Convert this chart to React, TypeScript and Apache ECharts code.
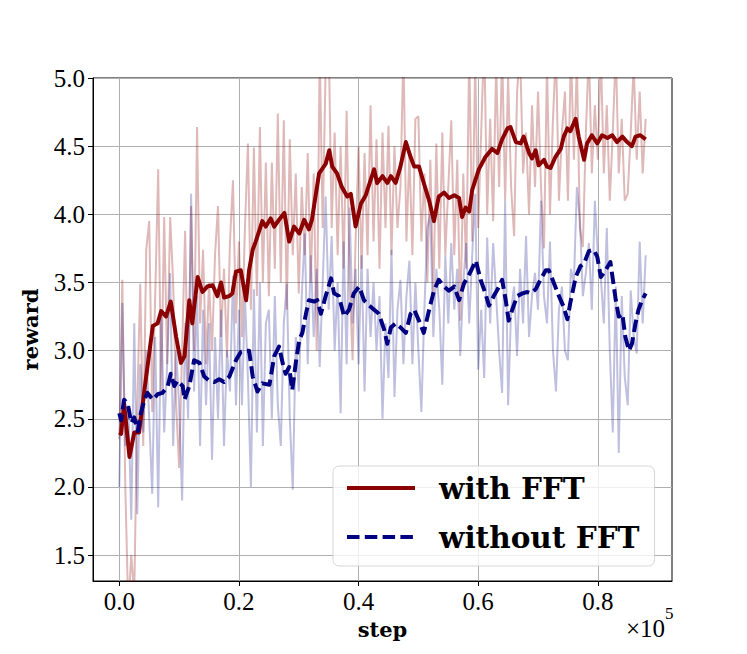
import React, { useEffect, useRef } from "react";
import * as echarts from "echarts";

// x in units of 1e5 steps; raw logs every RAW_STEP
const RAW_STEP = 0.005;

const rawWithFFT = [
  2.35, 3.52, 2.0, 1.1, 1.5, 1.2, 2.6, 3.49, 2.3, 3.74,
  3.95, 2.55, 3.4, 4.33, 2.7, 3.98, 2.9, 3.98, 3.5, 2.6,
  2.14, 3.0, 3.88, 2.7, 4.06, 3.0, 4.64, 3.2, 3.74, 2.9,
  3.5, 3.0, 3.7, 4.06, 3.1, 3.6, 2.95, 3.8, 4.25, 3.2,
  3.8, 3.1, 3.9, 4.52, 3.3, 4.49, 3.4, 4.64, 3.5, 4.38,
  3.4, 4.38, 3.6, 4.74, 3.5, 4.69, 3.3, 4.55, 3.7, 4.3,
  3.42, 4.2, 3.7, 4.45, 3.5, 4.3, 3.0, 5.2, 3.9, 5.1,
  5.3, 3.9, 4.6, 3.7, 4.5, 3.6, 4.76, 3.5, 2.93, 3.8,
  4.5, 3.6, 4.45, 3.7, 4.8, 3.8, 4.55, 3.6, 4.6, 3.9,
  4.65, 3.7, 4.5, 3.9, 4.2, 5.2, 3.8, 4.45, 3.7, 4.7,
  4.72, 3.8, 4.3, 3.5, 4.4, 3.4, 4.52, 3.6, 4.6, 3.7,
  4.2, 4.69, 3.7, 4.4, 3.22, 4.3, 3.6, 5.2, 3.8, 5.1,
  3.9, 4.6, 5.3, 4.0, 4.7, 3.95, 5.1, 4.2, 5.2, 4.1,
  5.0, 4.2, 3.84, 4.9, 5.2, 4.3, 4.6, 4.0, 4.8, 4.2,
  4.9, 4.2, 3.75, 5.1, 4.0, 4.7, 5.2, 4.1, 4.6, 4.9,
  4.1, 5.2, 4.4, 5.1, 3.9, 3.76, 4.6, 5.2, 4.3, 4.8,
  4.4, 5.2, 4.3, 4.8, 4.1, 4.6, 5.2, 4.3, 4.7, 4.1,
  4.15, 4.6, 5.1, 4.4, 4.9, 4.3, 4.7,
];

const rawWithoutFFT = [
  2.0, 3.35, 2.3, 2.6, 1.76, 3.2, 1.8, 2.9, 2.4, 3.0,
  2.5, 1.95, 3.1, 1.85, 3.3, 2.4, 2.9, 3.57, 2.3, 3.0,
  2.6, 1.9, 3.2, 2.5, 4.15, 2.7, 3.4, 2.3, 3.3, 2.6,
  3.2, 2.2, 3.1, 2.5, 3.3, 2.3, 3.0, 2.7, 3.55, 2.6,
  3.3, 2.6, 3.4, 2.8, 2.0, 3.45, 2.4, 3.5, 2.3, 3.2,
  3.3, 2.5, 3.4, 2.6, 2.3, 3.2, 3.49, 2.5, 1.98, 3.1,
  2.7, 3.4, 3.86, 2.9, 3.7, 3.1, 3.6, 2.88, 3.5, 4.13,
  3.3, 3.84, 3.0, 3.5, 2.54, 3.8, 2.9, 4.05, 3.2, 3.6,
  2.9, 3.7, 2.7, 3.6, 3.1, 3.5, 3.0, 3.4, 2.5, 3.2,
  2.8, 3.74, 2.66, 3.3, 3.52, 2.9, 3.4, 3.66, 2.9, 3.5,
  3.0, 2.55, 3.3, 3.9, 4.0, 3.1, 3.6, 3.3, 2.75, 3.7,
  3.2, 3.79, 3.3, 3.6, 2.96, 3.5, 3.79, 3.2, 3.7, 4.15,
  2.86, 3.3, 2.8, 3.83, 3.2, 3.79, 3.4, 3.0, 2.69, 4.1,
  2.6, 3.3, 3.47, 2.96, 3.6, 3.2, 3.84, 3.1, 3.4, 3.57,
  3.3, 4.1, 3.4, 3.2, 3.8, 3.0, 2.7, 3.3, 3.47, 3.0,
  2.93, 3.6, 3.5, 4.2, 3.96, 3.4, 3.57, 3.79, 3.3, 4.1,
  3.7, 3.54, 3.2, 3.9, 3.0, 2.4, 3.47, 2.25, 3.4, 2.81,
  2.6, 3.44, 3.1, 2.98, 3.8, 3.2, 3.7,
];

const smoothWithSteps = [
  0.0, 0.003, 0.008, 0.017, 0.025, 0.033, 0.042, 0.05, 0.056, 0.064,
  0.07, 0.078, 0.086, 0.095, 0.103, 0.109, 0.117, 0.122, 0.131, 0.139,
  0.147, 0.156, 0.164, 0.17, 0.175, 0.184, 0.189, 0.195, 0.203, 0.212,
  0.217, 0.223, 0.228, 0.234, 0.239, 0.245, 0.253, 0.259, 0.267, 0.276,
  0.284, 0.292, 0.301, 0.309, 0.317, 0.322, 0.334, 0.345, 0.351, 0.356,
  0.364, 0.372, 0.381, 0.387, 0.395, 0.404, 0.412, 0.42, 0.426, 0.431,
  0.44, 0.448, 0.454, 0.462, 0.47, 0.479, 0.487, 0.493, 0.501, 0.509,
  0.518, 0.526, 0.534, 0.543, 0.551, 0.56, 0.568, 0.573, 0.579, 0.585,
  0.59, 0.601, 0.612, 0.623, 0.632, 0.64, 0.649, 0.654, 0.663, 0.671,
  0.676, 0.685, 0.69, 0.696, 0.701, 0.71, 0.715, 0.721, 0.729, 0.738,
  0.743, 0.749, 0.754, 0.763, 0.768, 0.777, 0.782, 0.79, 0.799, 0.807,
  0.816, 0.824, 0.832, 0.841, 0.849, 0.857, 0.863, 0.871, 0.88,
];
const smoothWithReward = [
  2.4, 2.39, 2.61, 2.22, 2.4, 2.4, 2.71, 2.98, 3.18, 3.2,
  3.29, 3.25, 3.36, 3.1, 2.91, 2.96, 3.37, 3.2, 3.54, 3.43,
  3.47, 3.48, 3.4, 3.5, 3.39, 3.4, 3.42, 3.58, 3.59, 3.37,
  3.59, 3.74, 3.8, 3.88, 3.95, 3.91, 3.97, 3.91, 3.96, 4.01,
  3.8, 3.91, 3.86, 3.96, 3.89, 3.96, 4.3, 4.37, 4.47, 4.35,
  4.3, 4.2, 4.13, 4.15, 3.91, 4.08, 4.14, 4.25, 4.33, 4.23,
  4.28, 4.23, 4.28, 4.23, 4.35, 4.53, 4.42, 4.35, 4.35, 4.23,
  4.1, 3.95, 4.13, 4.16, 4.12, 4.14, 4.12, 3.98, 4.05, 4.02,
  4.18, 4.33, 4.42, 4.48, 4.45, 4.55, 4.63, 4.64, 4.53, 4.52,
  4.57, 4.45, 4.41, 4.47, 4.36, 4.4, 4.35, 4.34, 4.42, 4.48,
  4.57, 4.63, 4.61, 4.7, 4.57, 4.4, 4.52, 4.58, 4.52, 4.58,
  4.56, 4.58, 4.53, 4.57, 4.53, 4.5, 4.57, 4.58, 4.55,
];

const smoothWithoutSteps = [
  0.0, 0.003, 0.008, 0.014, 0.02, 0.025, 0.031, 0.036, 0.042, 0.047,
  0.056, 0.064, 0.072, 0.081, 0.086, 0.092, 0.097, 0.106, 0.109, 0.117,
  0.125, 0.134, 0.142, 0.15, 0.159, 0.167, 0.175, 0.184, 0.195, 0.203,
  0.212, 0.217, 0.223, 0.231, 0.239, 0.251, 0.259, 0.267, 0.273, 0.278,
  0.284, 0.289, 0.295, 0.301, 0.306, 0.312, 0.317, 0.326, 0.331, 0.337,
  0.345, 0.354, 0.359, 0.367, 0.376, 0.384, 0.392, 0.401, 0.409, 0.418,
  0.426, 0.434, 0.443, 0.448, 0.454, 0.462, 0.47, 0.479, 0.487, 0.493,
  0.501, 0.509, 0.518, 0.526, 0.534, 0.543, 0.551, 0.56, 0.568, 0.576,
  0.585, 0.596, 0.604, 0.612, 0.618, 0.626, 0.635, 0.64, 0.646, 0.651,
  0.657, 0.665, 0.674, 0.682, 0.688, 0.696, 0.704, 0.713, 0.718, 0.727,
  0.735, 0.743, 0.749, 0.754, 0.763, 0.771, 0.777, 0.785, 0.793, 0.799,
  0.805, 0.813, 0.821, 0.83, 0.835, 0.841, 0.846, 0.852, 0.857, 0.863,
  0.868, 0.874, 0.88,
];
const smoothWithoutReward = [
  2.54, 2.49, 2.64, 2.61, 2.47, 2.51, 2.41, 2.54, 2.64, 2.69,
  2.64, 2.68, 2.69, 2.74, 2.83, 2.74, 2.78, 2.74, 2.64, 2.74,
  2.93, 2.91, 2.81, 2.78, 2.77, 2.79, 2.77, 2.81, 2.93, 2.99,
  3.0, 3.0, 2.81, 2.7, 2.76, 2.75, 2.96, 3.03, 2.91, 2.83,
  2.88, 2.71, 2.91, 3.08, 3.13, 3.27, 3.37, 3.36, 3.37, 3.27,
  3.4, 3.53, 3.42, 3.4, 3.25, 3.3, 3.42, 3.47, 3.37, 3.33,
  3.3, 3.27, 3.15, 3.05, 3.17, 3.2, 3.17, 3.13, 3.27, 3.3,
  3.22, 3.13, 3.3, 3.44, 3.52, 3.47, 3.44, 3.47, 3.37, 3.49,
  3.56, 3.66, 3.52, 3.42, 3.33, 3.4, 3.47, 3.52, 3.37, 3.22,
  3.3, 3.4, 3.42, 3.43, 3.42, 3.45, 3.52, 3.59, 3.59, 3.49,
  3.4, 3.32, 3.23, 3.35, 3.54, 3.62, 3.64, 3.73, 3.74, 3.69,
  3.54, 3.59, 3.65, 3.37, 3.25, 3.27, 3.1, 3.0, 3.05, 3.2,
  3.3, 3.37, 3.42,
];

const xTicks = [0, 0.2, 0.4, 0.6, 0.8];
const yTicks = [1.5, 2.0, 2.5, 3.0, 3.5, 4.0, 4.5, 5.0];
const seriesNames = ["with FFT", "without FFT"];

const SERIF = "Liberation Serif";
const BOLD_SERIF = "DejaVu Serif";

export default function App() {
  const ref = useRef<HTMLDivElement>(null);

  useEffect(() => {
    const chart = echarts.init(ref.current as HTMLDivElement, null, { renderer: "svg" });

    const rawPairs = (arr: number[]) => arr.map((v, i) => [i * RAW_STEP, v]);
    const pairs = (xs: number[], ys: number[]) => xs.map((x, i) => [x, ys[i]]);

    const option: any = {
      animation: false,
      backgroundColor: "#fff",
      grid: {
        left: 93,
        right: 75,
        top: 78,
        bottom: 73,
        show: true,
        borderColor: "#000",
        borderWidth: 1,
        backgroundColor: "transparent",
      },
      xAxis: {
        type: "value",
        min: -0.044,
        max: 0.924,
        name: "step",
        nameLocation: "middle",
        nameGap: 37,
        nameTextStyle: { fontFamily: BOLD_SERIF, fontWeight: "bold", fontSize: 21, color: "#000" },
        axisLine: { show: true, onZero: false, lineStyle: { color: "#000", width: 1 } },
        axisTick: { show: true, inside: false, length: 5, customValues: xTicks, lineStyle: { color: "#000" } },
        axisLabel: {
          customValues: xTicks,
          formatter: (v: number) => v.toFixed(1),
          fontFamily: SERIF,
          fontSize: 25,
          color: "#000",
          margin: 8,
        },
        splitLine: { show: true, lineStyle: { color: "#b0b0b0", width: 1 } },
      },
      yAxis: {
        type: "value",
        min: 1.31,
        max: 5.0,
        name: "reward",
        nameLocation: "middle",
        nameGap: 52,
        nameTextStyle: { fontFamily: BOLD_SERIF, fontWeight: "bold", fontSize: 21, color: "#000" },
        axisLine: { show: true, onZero: false, lineStyle: { color: "#000", width: 1 } },
        axisTick: { show: true, inside: false, length: 5, customValues: yTicks, lineStyle: { color: "#000" } },
        axisLabel: {
          customValues: yTicks,
          formatter: (v: number) => v.toFixed(1),
          fontFamily: SERIF,
          fontSize: 25,
          color: "#000",
          margin: 8,
        },
        splitLine: { show: true, lineStyle: { color: "#b0b0b0", width: 1 } },
      },
      legend: {
        data: seriesNames,
        orient: "vertical",
        left: 333,
        top: 466,
        padding: [7, 15, 14, 12],
        itemGap: 19,
        itemWidth: 68,
        itemHeight: 14,
        backgroundColor: "rgba(255,255,255,0.8)",
        borderColor: "rgba(204,204,204,0.8)",
        borderWidth: 1,
        borderRadius: 6,
        itemStyle: { opacity: 0 },
        lineStyle: { width: 4 },
        textStyle: {
          fontFamily: BOLD_SERIF,
          fontWeight: "bold",
          fontSize: 29.5,
          color: "#000",
          lineHeight: 30,
          padding: [0, 0, 0, 19],
        },
      },
      graphic: [
        {
          type: "text",
          x: 665,
          y: 628,
          style: {
            text: "×10",
            fontFamily: SERIF,
            fontSize: 25,
            fill: "#000",
            textAlign: "right",
            align: "right",
            textVerticalAlign: "middle",
            verticalAlign: "middle",
          },
        },
        {
          type: "text",
          x: 665,
          y: 613,
          style: {
            text: "5",
            fontFamily: SERIF,
            fontSize: 17,
            fill: "#000",
            textAlign: "left",
            align: "left",
            textVerticalAlign: "middle",
            verticalAlign: "middle",
          },
        },
      ],
      series: [
        {
          name: "with FFT (raw)",
          type: "line",
          data: rawPairs(rawWithFFT),
          symbol: "none",
          lineStyle: { color: "rgba(139,0,0,0.28)", width: 2 },
          itemStyle: { color: "rgba(139,0,0,0.28)" },
          silent: true,
          z: 1,
        },
        {
          name: "without FFT (raw)",
          type: "line",
          data: rawPairs(rawWithoutFFT),
          symbol: "none",
          lineStyle: { color: "rgba(0,0,128,0.25)", width: 2 },
          itemStyle: { color: "rgba(0,0,128,0.25)" },
          silent: true,
          z: 1,
        },
        {
          name: seriesNames[0],
          type: "line",
          data: pairs(smoothWithSteps, smoothWithReward),
          symbol: "none",
          lineStyle: { color: "#8b0000", width: 4, join: "round" },
          itemStyle: { color: "#8b0000" },
          z: 3,
        },
        {
          name: seriesNames[1],
          type: "line",
          data: pairs(smoothWithoutSteps, smoothWithoutReward),
          symbol: "none",
          lineStyle: { color: "#000080", width: 4, type: [12.5, 5.3], join: "round" },
          itemStyle: { color: "#000080" },
          z: 4,
        },
      ],
    };

    chart.setOption(option);
    return () => chart.dispose();
  }, []);

  return (
    <div
      ref={ref}
      style={{ position: "absolute", left: 0, top: 0, width: 747, height: 654 }}
    />
  );
}
